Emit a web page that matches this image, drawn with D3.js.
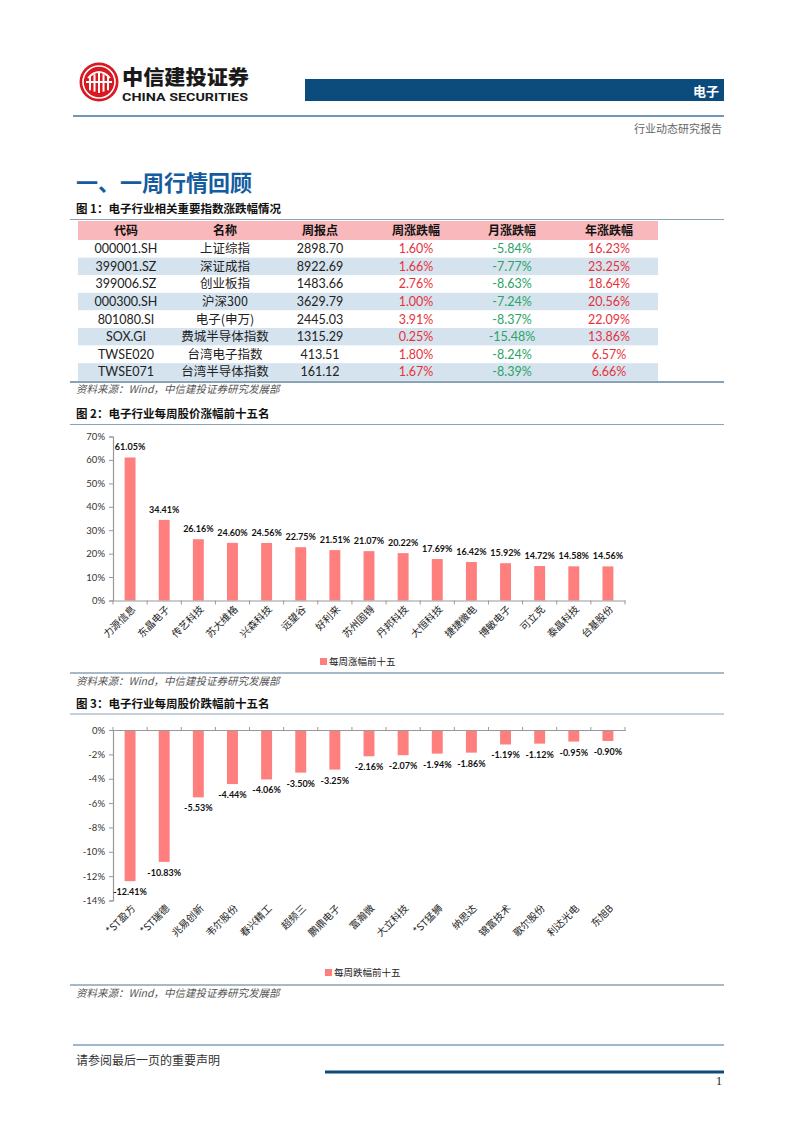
<!DOCTYPE html>
<html><head><meta charset="utf-8">
<script src="https://cdn.jsdelivr.net/npm/d3@7"></script>
<style>
html,body{margin:0;padding:0;background:#fff;}
svg{display:block;}
text{font-family:"Noto Sans CJK SC","Noto Sans",sans-serif;}
</style></head>
<body>
<svg id="page" width="802" height="1133"></svg>
<script>
// ---------- DATA ----------
const tableHeaders = ["代码","名称","周报点","周涨跌幅","月涨跌幅","年涨跌幅"];
const codes  = ["000001.SH","399001.SZ","399006.SZ","000300.SH","801080.SI","SOX.GI","TWSE020","TWSE071"];
const names  = ["上证综指","深证成指","创业板指","沪深300","电子(申万)","费城半导体指数","台湾电子指数","台湾半导体指数"];
const points = [2898.70,8922.69,1483.66,3629.79,2445.03,1315.29,413.51,161.12];
const weekChg  = [1.60,1.66,2.76,1.00,3.91,0.25,1.80,1.67];
const monthChg = [-5.84,-7.77,-8.63,-7.24,-8.37,-15.48,-8.24,-8.39];
const yearChg  = [16.23,23.25,18.64,20.56,22.09,13.86,6.57,6.66];

const gainNames  = ["力源信息","东晶电子","传艺科技","苏大维格","兴森科技","远望谷","好利来","苏州固锝","丹邦科技","大恒科技","捷捷微电","博敏电子","可立克","泰晶科技","台基股份"];
const gainValues = [61.05,34.41,26.16,24.60,24.56,22.75,21.51,21.07,20.22,17.69,16.42,15.92,14.72,14.58,14.56];
const gainTicks  = [0,10,20,30,40,50,60,70];

const lossNames  = ["*ST盈方","*ST瑞德","兆易创新","韦尔股份","春兴精工","超频三","鹏鼎电子","富瀚微","大立科技","*ST猛狮","纳思达","锦富技术","歌尔股份","利达光电","东旭B"];
const lossValues = [-12.41,-10.83,-5.53,-4.44,-4.06,-3.50,-3.25,-2.16,-2.07,-1.94,-1.86,-1.19,-1.12,-0.95,-0.90];
const lossTicks  = [0,-2,-4,-6,-8,-10,-12,-14];

// ---------- STYLE ----------
const RED = "#e8313c", GREEN = "#2aa364", BAR = "#ff7f7f", NAVY = "#0b4c7d", RULE = "#8aa2b5";
const svg = d3.select("#page");
svg.append("rect").attr("width",802).attr("height",1133).attr("fill","#fff");

// ---------- HEADER ----------
const logo = svg.append("g").attr("transform","translate(99,82)");
logo.append("circle").attr("r",19.5).attr("fill","#d9181f");
logo.append("circle").attr("r",16).attr("fill","none").attr("stroke","#fff").attr("stroke-width",1.6);
[-9,-4.5,0,4.5,9].forEach((dx,i)=>{
  logo.append("rect").attr("x",dx-1).attr("y",-9 + Math.abs(dx)*0.3).attr("width",2)
    .attr("height",20 - Math.abs(dx)*0.6).attr("fill","#fff");
});
logo.append("path").attr("d","M-11,-4 Q0,-16 11,-4").attr("fill","none").attr("stroke","#fff").attr("stroke-width",1.8);
logo.append("rect").attr("x",-13).attr("y",-1).attr("width",26).attr("height",2).attr("fill","#fff");

svg.append("text").attr("x",122).attr("y",85).attr("font-size",20).attr("font-weight",900)
  .attr("fill","#1a1a1a").attr("textLength",127).attr("lengthAdjust","spacingAndGlyphs").text("中信建投证券");
svg.append("text").attr("x",122).attr("y",101).attr("font-size",11.5)
  .attr("font-weight",700).attr("fill","#1a1a1a").attr("textLength",126).attr("lengthAdjust","spacingAndGlyphs")
  .style("font-family","Roboto,sans-serif").text("CHINA SECURITIES");

svg.append("rect").attr("x",305).attr("y",79).attr("width",419).attr("height",22).attr("fill",NAVY);
svg.append("text").attr("x",719).attr("y",95.5).attr("text-anchor","end").attr("font-size",13)
  .attr("font-weight",700).attr("fill","#fff").text("电子");
svg.append("line").attr("x1",73).attr("x2",724).attr("y1",116).attr("y2",116).attr("stroke","#3f75a0").attr("stroke-width",1.3);
svg.append("text").attr("x",722).attr("y",133).attr("text-anchor","end").attr("font-size",11)
  .attr("fill","#666").text("行业动态研究报告");

// ---------- TITLE ----------
svg.append("text").attr("x",76).attr("y",191).attr("font-size",22).attr("font-weight",700)
  .attr("fill","#145c9e").text("一、一周行情回顾");

function caption(y, txt){
  svg.append("text").attr("x",76).attr("y",y).attr("font-size",11.5).attr("font-weight",700)
    .attr("fill","#111").text(txt);
}
function rule(y, w){
  svg.append("line").attr("x1",70).attr("x2",724).attr("y1",y).attr("y2",y)
    .attr("stroke",RULE).attr("stroke-width",w||1.2);
}
function source(y){
  svg.append("text").attr("x",76).attr("y",y).attr("font-size",10.5).attr("font-style","italic")
    .attr("fill","#555").text("资料来源：Wind，中信建投证券研究发展部");
}

// ---------- TABLE ----------
caption(213,"图 1：电子行业相关重要指数涨跌幅情况");
rule(219.5,1.2);
const colCenters = [126,225,320,416,512,609];
const tX0 = 78, tX1 = 658, headTop = 221, headH = 19, rowH = 17.6;
svg.append("rect").attr("x",tX0).attr("y",headTop).attr("width",tX1-tX0).attr("height",headH).attr("fill","#f9b8bb");
tableHeaders.forEach((h,i)=>{
  svg.append("text").attr("x",colCenters[i]).attr("y",headTop+14).attr("text-anchor","middle")
    .attr("font-size",12).attr("font-weight",700).attr("fill","#111").text(h);
});
const fmtP = v => v.toFixed(2);
const rows = codes.map((c,i)=>({code:c,name:names[i],pt:points[i],w:weekChg[i],m:monthChg[i],y:yearChg[i]}));
const rowG = svg.selectAll("g.row").data(rows).join("g").attr("class","row")
  .attr("transform",(d,i)=>`translate(0,${headTop+headH+i*rowH})`);
rowG.append("rect").attr("x",tX0).attr("width",tX1-tX0).attr("height",rowH)
  .attr("fill",(d,i)=> i%2===1 ? "#d5e3ee" : "#fff");
const numFont = "Lato, 'Noto Sans', sans-serif";
function cell(sel, col, fn, color, isNum){
  sel.append("text").attr("x",colCenters[col]).attr("y",13.2).attr("text-anchor","middle")
    .attr("font-size",12.5).attr("fill",color).style("font-family", isNum?numFont:null).text(fn);
}
cell(rowG,0,d=>d.code,"#222",true);
cell(rowG,1,d=>d.name,"#222",false);
cell(rowG,2,d=>fmtP(d.pt),"#222",true);
cell(rowG,3,d=>fmtP(d.w)+"%",RED,true);
cell(rowG,4,d=>fmtP(d.m)+"%",GREEN,true);
cell(rowG,5,d=>fmtP(d.y)+"%",RED,true);
rule(382,2);
source(393);

// ---------- BAR CHART helper ----------
function barChart(opt){
  const g = svg.append("g");
  const x = d3.scaleBand().domain(opt.names).range([113,625]).paddingInner(0.68).paddingOuter(0.34);
  const y = d3.scaleLinear().domain(opt.domain).range(opt.range);
  g.selectAll("rect.bar").data(opt.values).join("rect").attr("class","bar")
    .attr("x",(d,i)=>x(opt.names[i])).attr("width",x.bandwidth())
    .attr("y",d=>Math.min(y(0),y(d))).attr("height",d=>Math.abs(y(d)-y(0)))
    .attr("fill",BAR);
  const yAxis = d3.axisLeft(y).tickValues(opt.ticks).tickFormat(d=>String(d)+"%").tickSize(4).tickPadding(4);
  const ya = g.append("g").attr("transform","translate(113,0)").call(yAxis);
  ya.select(".domain").attr("stroke","#999").attr("stroke-width",1.2);
  ya.selectAll(".tick line").attr("stroke","#999");
  ya.selectAll(".tick text").attr("font-size",9.5).attr("fill","#333")
    .style("font-family",numFont);
  const xAxis = d3.axisBottom(x).tickSize(0).tickFormat("");
  const xa = g.append("g").attr("transform",`translate(0,${y(0)})`).call(xAxis);
  xa.select(".domain").attr("stroke","#999").attr("stroke-width",1.2);
  const bounds = d3.range(opt.names.length+1).map(i=>113 + i*x.step());
  g.selectAll("line.bt").data(bounds).join("line").attr("class","bt")
    .attr("x1",d=>d).attr("x2",d=>d).attr("y1",y(0)+(opt.tickUp?-3:0)).attr("y2",y(0)+(opt.tickUp?1:4))
    .attr("stroke","#999");
  g.selectAll("text.val").data(opt.values).join("text").attr("class","val")
    .attr("x",(d,i)=>x(opt.names[i])+x.bandwidth()/2)
    .attr("y",d=> d>=0 ? y(d)-7 : y(d)+14)
    .attr("text-anchor","middle").attr("font-size",9).attr("font-weight",700).attr("fill","#111")
    .style("font-family",numFont)
    .text(d=>d.toFixed(2)+"%");
  g.selectAll("text.cat").data(opt.names).join("text").attr("class","cat")
    .attr("transform",d=>`translate(${x(d)+x.bandwidth()/2+6},${opt.labelY}) rotate(-45)`)
    .attr("text-anchor","end").attr("font-size",10).attr("fill","#222").text(d=>d);
  g.append("rect").attr("x",opt.legendX).attr("y",opt.legendY-7).attr("width",7).attr("height",7).attr("fill",BAR);
  g.append("text").attr("x",opt.legendX+9).attr("y",opt.legendY).attr("font-size",9.5).attr("fill","#222").text(opt.legend);
}

// ---------- CHART 2 ----------
caption(418,"图 2：电子行业每周股价涨幅前十五名");
rule(424.5,1.2);
barChart({names:gainNames, values:gainValues, domain:[0,70], range:[600.5,436.5], ticks:gainTicks,
  labelY:610, legendX:320, legendY:665, legend:"每周涨幅前十五"});
rule(673,1.5);
source(685);

// ---------- CHART 3 ----------
caption(708,"图 3：电子行业每周股价跌幅前十五名");
rule(714,1.2);
barChart({names:lossNames, values:lossValues, domain:[0,-14], range:[730,900.5], ticks:lossTicks,
  labelY:909, legendX:325, legendY:976, legend:"每周跌幅前十五", tickUp:true});
rule(985,1.5);
source(997);

// ---------- FOOTER ----------
svg.append("line").attr("x1",73).attr("x2",724).attr("y1",1045).attr("y2",1045).attr("stroke","#3f75a0").attr("stroke-width",1.2);
svg.append("text").attr("x",76).attr("y",1065).attr("font-size",12).attr("fill","#333").text("请参阅最后一页的重要声明");
svg.append("line").attr("x1",325).attr("x2",724).attr("y1",1072).attr("y2",1072).attr("stroke",NAVY).attr("stroke-width",3);
svg.append("text").attr("x",722).attr("y",1085).attr("text-anchor","end").attr("font-size",12)
  .style("font-family","'Liberation Serif',serif").attr("fill","#111").text("1");
</script>
</body></html>
